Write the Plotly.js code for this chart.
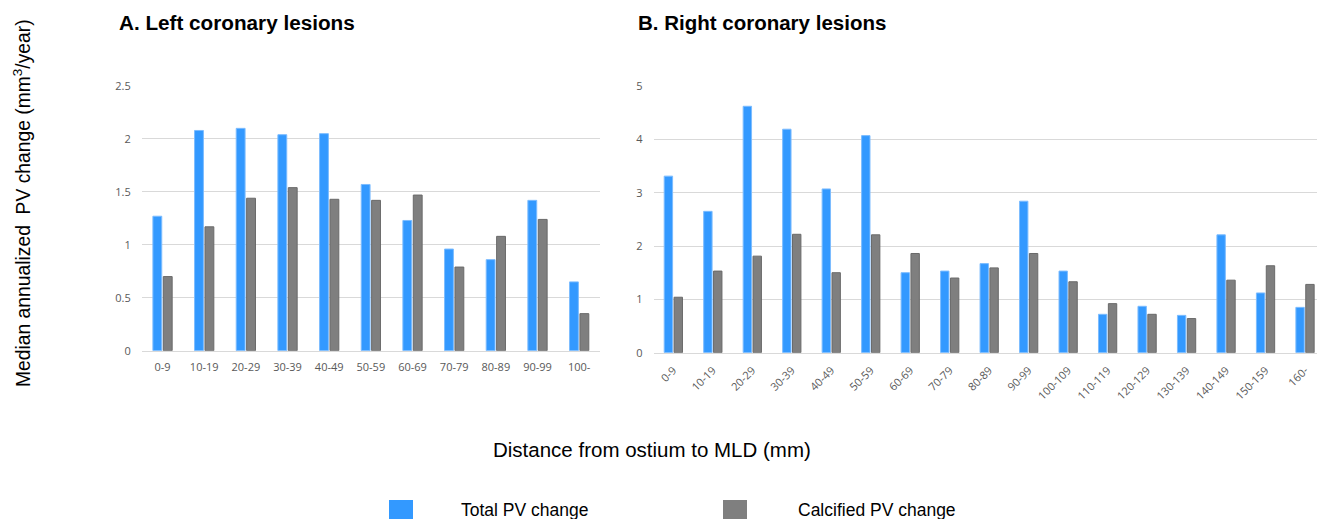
<!DOCTYPE html>
<html>
<head>
<meta charset="utf-8">
<script src="https://cdn.plot.ly/plotly-3.0.1.min.js"></script>
<style>
  html, body { margin: 0; padding: 0; background: #ffffff; }
  #chart { width: 1317px; height: 519px; }
</style>
</head>
<body>
<div id="chart"></div>
<script>
// ---- Data ----
const leftCategories = ["0-9", "10-19", "20-29", "30-39", "40-49", "50-59", "60-69", "70-79", "80-89", "90-99", "100-"];
const leftTotal      = [1.27, 2.08, 2.10, 2.04, 2.05, 1.57, 1.23, 0.96, 0.86, 1.42, 0.65];
const leftCalcified  = [0.70, 1.17, 1.44, 1.54, 1.43, 1.42, 1.47, 0.79, 1.08, 1.24, 0.35];

const rightCategories = ["0-9", "10-19", "20-29", "30-39", "40-49", "50-59", "60-69", "70-79", "80-89", "90-99",
                         "100-109", "110-119", "120-129", "130-139", "140-149", "150-159", "160-"];
const rightTotal      = [3.31, 2.65, 4.62, 4.19, 3.07, 4.07, 1.50, 1.53, 1.67, 2.84, 1.53, 0.72, 0.87, 0.70, 2.21, 1.12, 0.85];
const rightCalcified  = [1.04, 1.53, 1.81, 2.22, 1.50, 2.21, 1.86, 1.40, 1.59, 1.86, 1.33, 0.92, 0.72, 0.64, 1.36, 1.63, 1.28];

const seriesNames = ["Total PV change", "Calcified PV change"];

// ---- Styles ----
const W = 1317, H = 519;
const BLUE = "#3399ff", GRAY = "#7f7f7f";
const px = v => v / W;
const py = v => (H - v) / H;
const RIGHT_START = 653.6, RIGHT_STEP = 39.48;

const blueMarker = { color: BLUE, line: { color: "#7cbcff", width: 1 } };
const grayMarker = { color: GRAY, line: { color: "#6a6a6a", width: 1 } };

const traces = [
  { type: "bar", x: leftCategories, y: leftTotal, name: seriesNames[0], marker: blueMarker,
    xaxis: "x", yaxis: "y", showlegend: false, hoverinfo: "x+y" },
  { type: "bar", x: leftCategories, y: leftCalcified, name: seriesNames[1], marker: grayMarker,
    xaxis: "x", yaxis: "y", showlegend: false, hoverinfo: "x+y" },
  { type: "bar", x: rightCategories, y: rightTotal, name: seriesNames[0], marker: blueMarker,
    xaxis: "x2", yaxis: "y2", showlegend: false, hoverinfo: "x+y" },
  { type: "bar", x: rightCategories, y: rightCalcified, name: seriesNames[1], marker: grayMarker,
    xaxis: "x2", yaxis: "y2", showlegend: false, hoverinfo: "x+y" }
];

const tickFont = { family: "Open Sans, sans-serif", size: 11, color: "#595959" };
const gridColor = "#d9d9d9";
const textFont = size => ({ family: "Liberation Sans, Arial, sans-serif", size: size, color: "#000000" });

const layout = {
  width: W, height: H,
  margin: { l: 0, r: 0, t: 0, b: 0, autoexpand: false },
  paper_bgcolor: "#ffffff", plot_bgcolor: "#ffffff",
  barmode: "group", bargap: 0.5, bargroupgap: 0.15,
  font: { family: "Liberation Sans, Arial, sans-serif", color: "#000000" },
  xaxis: {
    domain: [px(141.7), px(600)], anchor: "y",
    type: "category", range: [-0.5, 10.5],
    showgrid: false, showline: true, linecolor: gridColor, linewidth: 1,
    ticks: "", tickfont: tickFont, tickangle: 0, ticklabelstandoff: 6,
    zeroline: false, fixedrange: true
  },
  yaxis: {
    domain: [py(350.7), py(86)], anchor: "x",
    range: [0, 2.5], dtick: 0.5, tick0: 0,
    showgrid: true, gridcolor: gridColor, gridwidth: 1,
    zeroline: false, showline: false, ticks: "",
    tickfont: tickFont, ticklabelstandoff: 10, fixedrange: true
  },
  xaxis2: {
    domain: [px(RIGHT_START), 1], anchor: "y2",
    type: "category", range: [-0.5, (W - RIGHT_START) / RIGHT_STEP - 0.5],
    showgrid: false, showline: true, linecolor: gridColor, linewidth: 1,
    ticks: "", tickfont: tickFont, tickangle: -45, ticklabelstandoff: 6,
    zeroline: false, fixedrange: true
  },
  yaxis2: {
    domain: [py(352.7), py(86)], anchor: "x2",
    range: [0, 5], dtick: 1, tick0: 0,
    showgrid: true, gridcolor: gridColor, gridwidth: 1,
    zeroline: false, showline: false, ticks: "",
    tickfont: tickFont, ticklabelstandoff: 10, fixedrange: true
  },
  annotations: [
    { text: "<b>A. Left coronary lesions</b>", xref: "paper", yref: "paper",
      x: px(117), y: py(22), xanchor: "left", yanchor: "middle", showarrow: false,
      font: textFont(20.7) },
    { text: "<b>B. Right coronary lesions</b>", xref: "paper", yref: "paper",
      x: px(636), y: py(22), xanchor: "left", yanchor: "middle", showarrow: false,
      font: textFont(20.5) },
    { text: "Median annualized  PV change (mm<sup>3</sup>/year)", xref: "paper", yref: "paper",
      x: px(22), y: py(203), xanchor: "center", yanchor: "middle", textangle: -90, showarrow: false,
      font: textFont(19.3) },
    { text: "Distance from ostium to MLD (mm)", xref: "paper", yref: "paper",
      x: px(652), y: py(449), xanchor: "center", yanchor: "middle", showarrow: false,
      font: textFont(20.5) },
    { text: seriesNames[0], xref: "paper", yref: "paper",
      x: px(459), y: py(510), xanchor: "left", yanchor: "middle", showarrow: false,
      font: textFont(17.5) },
    { text: seriesNames[1], xref: "paper", yref: "paper",
      x: px(796), y: py(510), xanchor: "left", yanchor: "middle", showarrow: false,
      font: textFont(17.5) }
  ],
  shapes: [
    { type: "rect", xref: "paper", yref: "paper", x0: px(389), x1: px(413), y0: py(522), y1: py(500),
      fillcolor: BLUE, line: { width: 0 } },
    { type: "rect", xref: "paper", yref: "paper", x0: px(723), x1: px(747), y0: py(522), y1: py(500),
      fillcolor: GRAY, line: { width: 0 } }
  ]
};

Plotly.newPlot("chart", traces, layout, { displayModeBar: false, staticPlot: true });
</script>
</body>
</html>
